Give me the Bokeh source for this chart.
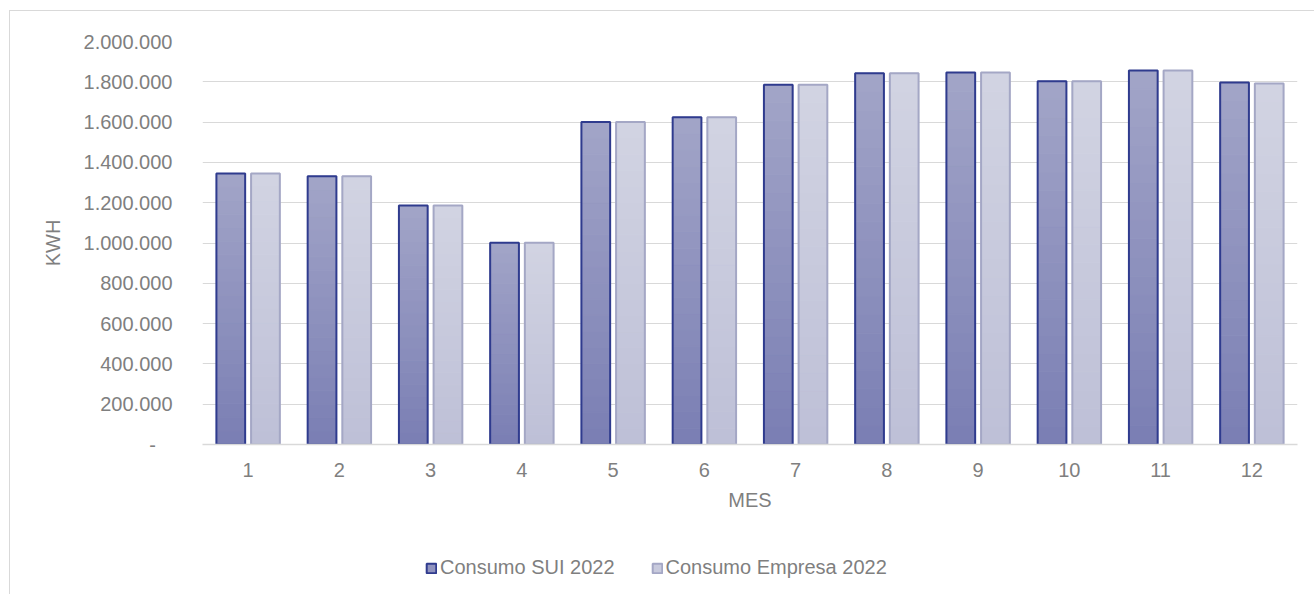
from bokeh.plotting import figure
from bokeh.layouts import column
from bokeh.models import (ColumnDataSource, FactorRange, Range1d, FixedTicker,
                          Legend, LegendItem)
from bokeh.transform import dodge
from bokeh.embed import file_html
from bokeh.resources import INLINE

# Monthly energy consumption (kWh), 2022
meses = ["1", "2", "3", "4", "5", "6", "7", "8", "9", "10", "11", "12"]
consumo_sui = [1345000, 1331000, 1186000, 1001000, 1601000, 1624000,
               1785000, 1842000, 1846000, 1803000, 1856000, 1797000]
consumo_empresa = [1345000, 1331000, 1186000, 1001000, 1601000, 1624000,
                   1785000, 1842000, 1846000, 1803000, 1856000, 1792000]
y_ticks = [0, 200000, 400000, 600000, 800000, 1000000,
           1200000, 1400000, 1600000, 1800000, 2000000]
series_labels = ["Consumo SUI 2022", "Consumo Empresa 2022"]

FONT = "Liberation Sans"
TEXT = "#7f7f7f"
GRID = "#d9d9d9"
SUI_EDGE, EMP_EDGE = "#2f3b8e", "#a4a7c5"

p = figure(width=1305, height=510, x_range=FactorRange(*meses),
           y_range=Range1d(0, 2000000), output_backend="svg",
           toolbar_location=None, min_border_left=192, min_border_right=18,
           min_border_top=30, min_border_bottom=77)
p.outline_line_color = None
p.background_fill_color = "white"
p.border_fill_color = "white"


def blend(c0, c1, t):
    a = [int(c0[i:i + 2], 16) for i in (1, 3, 5)]
    b = [int(c1[i:i + 2], 16) for i in (1, 3, 5)]
    return "#" + "".join(f"{round(x + (y - x) * t):02x}" for x, y in zip(a, b))


def gradient_source(values, bottom_color, top_color, steps=20):
    # each bar is split into thin slices to give it a vertical colour ramp
    data = {"mes": [], "bottom": [], "top": [], "color": []}
    for m, v in zip(meses, values):
        for k in range(steps):
            data["mes"].append(m)
            data["bottom"].append(v * k / steps)
            data["top"].append(v * (k + 1) / steps)
            data["color"].append(blend(bottom_color, top_color, (k + 0.5) / steps))
    return ColumnDataSource(data)


src = ColumnDataSource(dict(mes=meses, sui=consumo_sui, empresa=consumo_empresa))

BAR_W = 0.315
OFF = 0.19

# Series 1: SUI
p.vbar(x=dodge("mes", -OFF, range=p.x_range), bottom="bottom", top="top",
       width=BAR_W, fill_color="color", line_color="color", line_width=1,
       source=gradient_source(consumo_sui, "#7a7eb3", "#a2a5c8"))
p.vbar(x=dodge("mes", -OFF, range=p.x_range), top="sui", width=BAR_W,
       fill_color=None, line_color=SUI_EDGE, line_width=2, source=src)

# Series 2: Empresa
p.vbar(x=dodge("mes", OFF, range=p.x_range), bottom="bottom", top="top",
       width=BAR_W, fill_color="color", line_color="color", line_width=1,
       source=gradient_source(consumo_empresa, "#bdbfd7", "#d2d4e2"))
p.vbar(x=dodge("mes", OFF, range=p.x_range), top="empresa", width=BAR_W,
       fill_color=None, line_color=EMP_EDGE, line_width=2, source=src)

# Axes
p.xgrid.grid_line_color = None
p.ygrid.grid_line_color = GRID
p.ygrid.grid_line_width = 1

p.yaxis.ticker = FixedTicker(ticks=y_ticks)
p.yaxis.major_label_overrides = {
    t: ("-\u00a0\u00a0\u00a0" if t == 0 else f"{t:,}".replace(",", ".")) for t in y_ticks
}
p.yaxis.axis_line_color = None
p.yaxis.major_tick_line_color = None
p.yaxis.minor_tick_line_color = None
p.yaxis.major_label_standoff = 24
p.yaxis.axis_label = "KWH"
p.yaxis.axis_label_standoff = 17

p.xaxis.axis_line_color = GRID
p.xaxis.axis_line_width = 1.3
p.xaxis.major_tick_line_color = None
p.xaxis.minor_tick_line_color = None
p.xaxis.major_label_standoff = 12
p.xaxis.axis_label = "MES"
p.xaxis.axis_label_standoff = 9

for ax in (p.xaxis[0], p.yaxis[0]):
    ax.major_label_text_font = FONT
    ax.major_label_text_font_size = "20px"
    ax.major_label_text_color = TEXT
    ax.axis_label_text_font = FONT
    ax.axis_label_text_font_size = "20px"
    ax.axis_label_text_font_style = "normal"
    ax.axis_label_text_color = TEXT

# Legend strip under the chart (its key renderers stay hidden, only the keys show)
leg = figure(width=1305, height=74, x_range=FactorRange(*meses), y_range=Range1d(0, 1),
             output_backend="svg", toolbar_location=None, min_border=0)
leg.axis.visible = False
leg.grid.visible = False
leg.outline_line_color = None
leg.background_fill_color = "white"
leg.border_fill_color = "white"

key_sui = leg.vbar(x="mes", top="sui", width=BAR_W, fill_color="#9093bf",
                   line_color=SUI_EDGE, line_width=2, source=src, visible=False)
key_emp = leg.vbar(x="mes", top="empresa", width=BAR_W, fill_color="#c8cadd",
                   line_color=EMP_EDGE, line_width=2, source=src, visible=False)

legend = Legend(items=[
    LegendItem(label=series_labels[0], renderers=[key_sui]),
    LegendItem(label=series_labels[1], renderers=[key_emp]),
], orientation="horizontal", location=(223, 16))
legend.border_line_color = None
legend.background_fill_alpha = 0
legend.inactive_fill_alpha = 0
legend.label_text_font = FONT
legend.label_text_font_size = "20px"
legend.label_text_color = TEXT
legend.glyph_width = 12
legend.glyph_height = 12
legend.label_standoff = 3
legend.spacing = 36
legend.padding = 0
legend.margin = 0
leg.add_layout(legend)

layout = column(p, leg, spacing=0)
layout.styles = {"margin-left": "9px", "margin-top": "10px",
                 "border-left": f"1px solid {GRID}", "border-top": f"1px solid {GRID}"}

open("out.html", "w").write(file_html(layout, INLINE))
